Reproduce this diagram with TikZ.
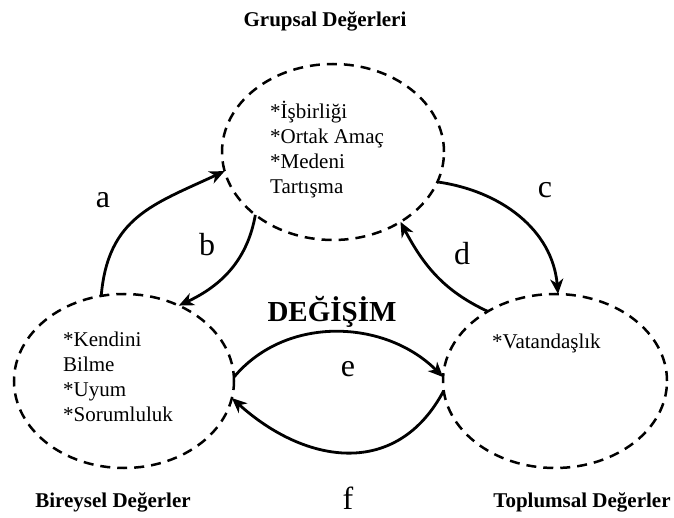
\documentclass[tikz,border=0pt]{standalone}
\usepackage{fontspec}
\setmainfont{Liberation Serif}
\usetikzlibrary{arrows.meta,shapes.geometric}
\begin{document}
\begin{tikzpicture}[x=1pt,y=1pt,
  ell/.style={ellipse, draw, line width=2.5pt, dash pattern=on 10pt off 7pt, inner sep=0pt, outer sep=0pt},
  txt/.style={anchor=base west, align=left, inner sep=0pt, font=\fontsize{21}{25}\selectfont},
  ttl/.style={anchor=base, inner sep=0pt, font=\fontsize{21}{25}\selectfont\bfseries},
  lbl/.style={anchor=base, inner sep=0pt, font=\fontsize{32}{36}\selectfont},
  arr/.style={line width=2.8pt, -{Stealth[length=15pt,width=13pt,inset=4.5pt]}}]
\useasboundingbox (0,0) rectangle (674,-518);
% ellipses
\node[ell, minimum width=222pt, minimum height=176pt] (T) at (333,-152) {};
\node[ell, minimum width=220pt, minimum height=174pt] (L) at (124,-381) {};
\node[ell, minimum width=224pt, minimum height=174pt] (R) at (555,-381) {};
% texts in ellipses (base = last line)
\node[txt] (tT) at (270,-194) {*İşbirliği\\*Ortak Amaç\\*Medeni\\Tartışma};
\node[txt] (tL) at (63,-421) {*Kendini\\Bilme\\*Uyum\\*Sorumluluk};
\node[txt] (tR) at (492,-348) {*Vatandaşlık};
% titles
\node[ttl] (gT) at (325,-27) {Grupsal Değerleri};
\node[ttl] (gL) at (113,-507) {Bireysel Değerler};
\node[ttl] (gR) at (582,-507) {Toplumsal Değerler};
\node[anchor=base, inner sep=0pt, font=\fontsize{29}{33}\selectfont\bfseries] (dg) at (332,-321) {DEĞİŞİM};
% labels
\node[lbl] (la) at (103,-208) {a};
\node[lbl] (lb) at (207,-256) {b};
\node[lbl] (lc) at (545,-198) {c};
\node[lbl] (ld) at (462,-265) {d};
\node[lbl] (le) at (348,-376) {e};
\node[lbl] (lf) at (348,-509) {f};
% arrows
\draw[arr] (L.105) to[out=85, in=205, looseness=1.15] (T.190);
\draw[arr] (T.219) to[out=-100, in=25] (L.54);
\draw[arr] (T.-16) to[out=-8, in=95] (R.88);
\draw[arr] (R.134) to[out=155, in=-62] (T.-46);
\draw[arr] (L.2) to[out=50, in=135] (R.178);
\draw[arr] (R.185) to[out=-118, in=-42, looseness=1.2] (L.-9);
\end{tikzpicture}
\end{document}
